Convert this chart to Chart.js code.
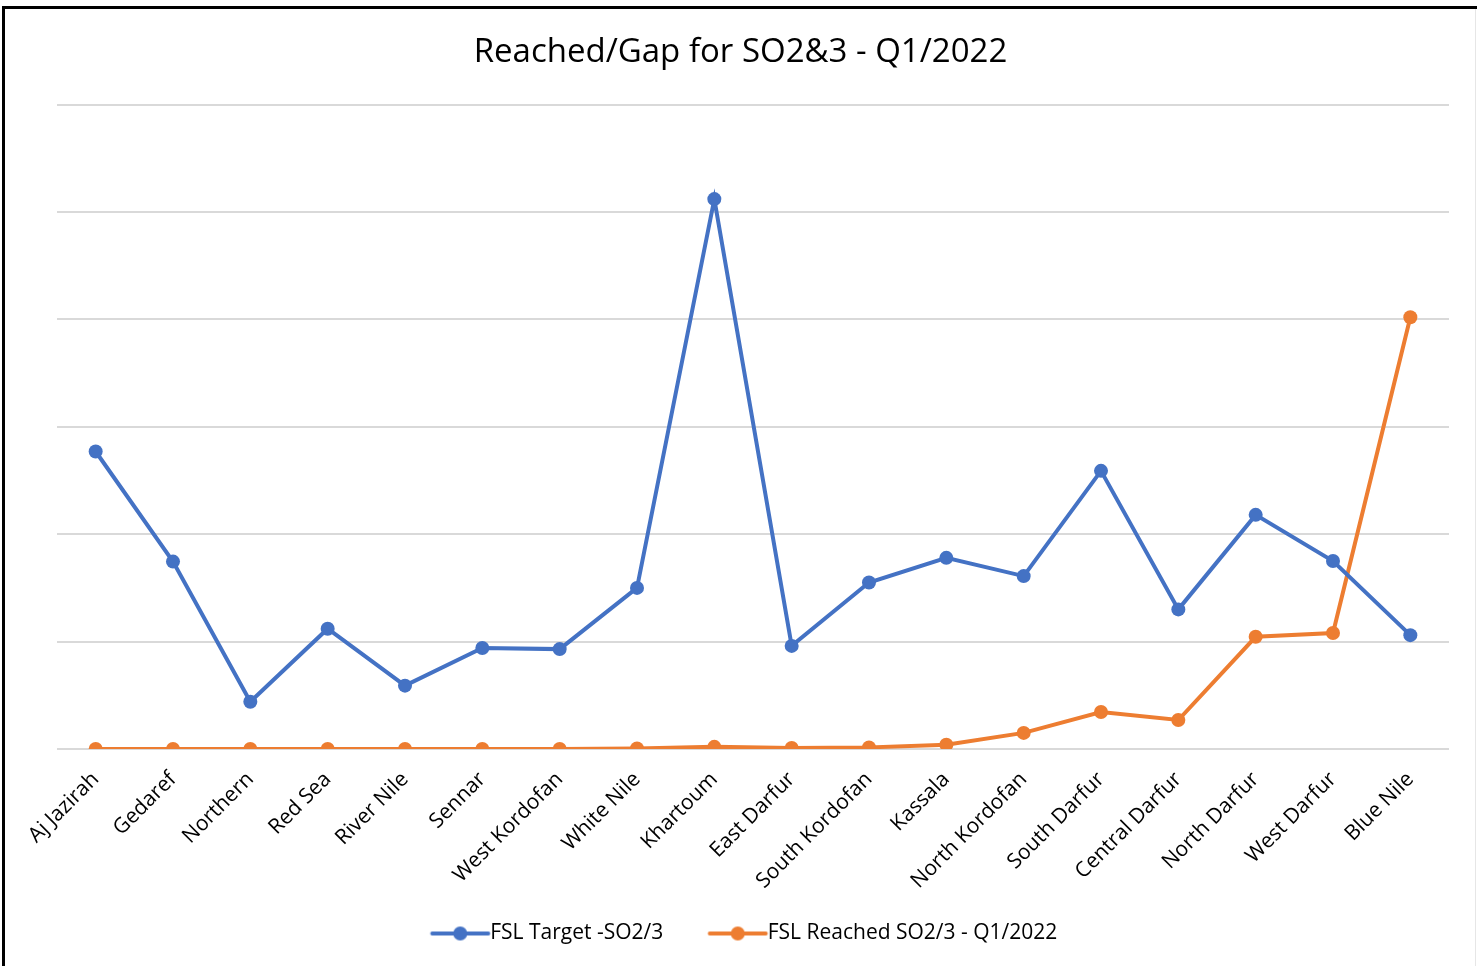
<!DOCTYPE html>
<html>
<head>
<meta charset="utf-8">
<script src="https://cdn.jsdelivr.net/npm/chart.js@4.4.1/dist/chart.umd.min.js"></script>
<style>
  html, body { margin: 0; padding: 0; background: #fff; }
  #wrap { position: relative; width: 1477px; height: 966px; overflow: hidden; }
  canvas { position: absolute; left: 0; top: 0; }
  .bt { position: absolute; left: 2px; top: 6px; width: 1475px; height: 3px; background: #000; }
  .bl { position: absolute; left: 2px; top: 6px; width: 3px; height: 960px; background: #000; }
  .br { position: absolute; left: 1475px; top: 9px; width: 1px; height: 957px; background: #e6e6e6; }
</style>
</head>
<body>
<div id="wrap">
  <canvas id="c" width="1477" height="966"></canvas>
  <div class="bt"></div><div class="bl"></div><div class="br"></div>
</div>
<script>
const categories = ["Aj Jazirah","Gedaref","Northern","Red Sea","River Nile","Sennar","West Kordofan","White Nile","Khartoum","East Darfur","South Kordofan","Kassala","North Kordofan","South Darfur","Central Darfur","North Darfur","West Darfur","Blue Nile"];
const targetValues = [2.77,1.745,0.44,1.12,0.59,0.94,0.93,1.50,5.12,0.96,1.55,1.78,1.61,2.59,1.30,2.18,1.75,1.06];
const reachedValues = [0,0,0,0,0,0,0,0.005,0.02,0.01,0.015,0.04,0.15,0.345,0.27,1.045,1.08,4.02];
const seriesNames = ["FSL Target -SO2/3","FSL Reached SO2/3 - Q1/2022"];
const seriesColors = ["#4472C4","#ED7D31"];

const FONT = "'Open Sans', Lato, sans-serif";
const LEG_FS = 21;

// legend sample: line + dot, drawn to the left of the text
function legendImage(color) {
  const cv = document.createElement('canvas');
  cv.width = 200; cv.height = 20;
  const g = cv.getContext('2d');
  g.strokeStyle = color; g.lineWidth = 4; g.lineCap = 'round';
  const endX = 100 + 42 + LEG_FS / 2 - 2;   // just before text
  g.beginPath(); g.moveTo(endX - 56, 10); g.lineTo(endX, 10); g.stroke();
  g.fillStyle = color;
  g.beginPath(); g.arc(endX - 28, 10, 7, 0, Math.PI * 2); g.fill();
  return cv;
}
const legendImgs = seriesColors.map(legendImage);

const legendShift = {
  id: 'legendShift',
  afterLayout(chart) {
    if (chart.legend) { chart.legend.left -= 14; chart.legend.right -= 14; }
  }
};

new Chart(document.getElementById('c'), {
  type: 'line',
  data: {
    labels: categories,
    datasets: [
      { label: seriesNames[0], data: targetValues, borderColor: seriesColors[0], backgroundColor: seriesColors[0],
        borderWidth: 4, pointRadius: 7, pointHoverRadius: 7, pointBorderWidth: 0, tension: 0 },
      { label: seriesNames[1], data: reachedValues, borderColor: seriesColors[1], backgroundColor: seriesColors[1],
        borderWidth: 4, pointRadius: 7, pointHoverRadius: 7, pointBorderWidth: 0, tension: 0 }
    ]
  },
  plugins: [legendShift],
  options: {
    responsive: false,
    animation: false,
    layout: { padding: { left: 32, right: 28, top: 0, bottom: 12 } },
    plugins: {
      title: {
        display: true,
        text: "Reached/Gap for SO2&3 - Q1/2022",
        color: '#000',
        font: { family: FONT, size: 33, weight: 'normal', lineHeight: 1.2 },
        padding: { top: 33, bottom: 32 }
      },
      legend: {
        position: 'bottom',
        labels: {
          usePointStyle: true,
          pointStyleWidth: 84,
          boxHeight: 20,
          padding: 10,
          color: '#000',
          font: { family: FONT, size: LEG_FS },
          generateLabels(chart) {
            const items = Chart.defaults.plugins.legend.labels.generateLabels(chart);
            items.forEach((it, i) => { it.pointStyle = legendImgs[i]; });
            return items;
          }
        }
      },
      tooltip: { enabled: false }
    },
    scales: {
      x: {
        offset: true,
        grid: { display: false },
        border: { display: false },
        ticks: { color: '#000', font: { family: FONT, size: 21 }, minRotation: 45, maxRotation: 45, autoSkip: false, padding: 10 },
        afterFit(scale) { scale.height = 164; }
      },
      y: {
        min: 0, max: 6,
        ticks: { display: false, stepSize: 1 },
        grid: { color: '#d9d9d9', lineWidth: 2, drawTicks: false },
        border: { display: false },
        afterFit(scale) { scale.width = 25; }
      }
    }
  }
});
</script>
</body>
</html>
